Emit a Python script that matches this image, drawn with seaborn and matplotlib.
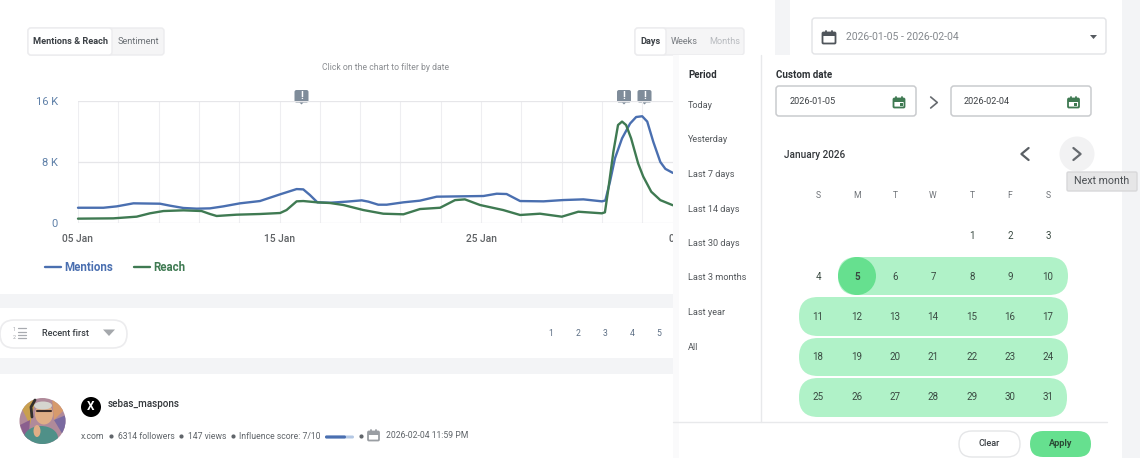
import numpy as np
import matplotlib
matplotlib.use("Agg")
import matplotlib.pyplot as plt
import matplotlib.patches as mpatches
import seaborn as sns

W, H = 1140, 458

# days after 05 Jan, values in thousands
mentions_day = [0, 1.26, 1.92, 2.75, 4.07, 4.57, 5.23, 5.89, 6.55, 7.21, 8.04, 9.03, 10.03, 10.85, 11.18, 11.51, 11.88,
                12.51, 13.33, 14.08, 14.41, 14.9, 15.32, 16.15, 16.97, 17.8, 20.12, 20.78, 21.27, 21.94, 23.1, 24.08, 25.08, 26,
                26.17, 26.4, 26.65, 27, 27.4, 27.7, 28, 28.25, 28.55, 28.9, 29.15, 29.5, 30]
mentions_k = [2.0, 2.0, 2.18, 2.58, 2.53, 2.27, 1.97, 1.88, 1.92, 2.18, 2.58, 2.88, 3.76, 4.45, 4.41, 3.67, 2.71,
              2.66, 2.8, 2.97, 2.8, 2.4, 2.4, 2.71, 2.93, 3.45, 3.54, 3.84, 3.8, 2.88, 2.84, 3.01, 3.1, 2.84,
              2.95, 5.4, 8.5, 11.1, 13.05, 13.9, 14.0, 13.3, 10.65, 8.0, 7.1, 6.6, 6.2]
reach_day = [0, 1.75, 2.91, 3.57, 4.24, 5.23, 6.13, 6.55, 6.88, 7.87, 9.03, 10.03, 10.35, 10.85, 11.18, 11.88,
             12.51, 13.17, 14.16, 15.15, 16.15, 16.97, 17.97, 18.71, 19.2, 19.95, 21.1, 21.94, 22.93, 24.01, 24.83, 26,
             26.15, 26.3, 26.57, 26.8, 27, 27.2, 27.45, 27.8, 28.05, 28.45, 28.9, 29.5, 30]
reach_k = [0.57, 0.61, 0.83, 1.27, 1.57, 1.66, 1.57, 1.18, 0.92, 1.09, 1.18, 1.31, 1.7, 2.84, 2.88, 2.71,
           2.62, 2.36, 1.7, 1.22, 1.14, 1.83, 2.0, 3.0, 3.1, 2.36, 1.7, 1.05, 1.22, 0.83, 1.48, 1.27,
           1.4, 4.1, 9.35, 12.85, 13.3, 12.85, 11.1, 7.8, 6.1, 4.1, 3.0, 2.35, 2.1]
x_ticks = [0, 10, 20, 29.45]
x_tick_labels = ["05 Jan", "15 Jan", "25 Jan", "0"]
y_ticks = [0, 8, 16]
y_tick_labels = ["0", "8 K", "16 K"]

period_items = ["Today", "Yesterday", "Last 7 days", "Last 14 days", "Last 30 days", "Last 3 months", "Last year", "All"]
week_days = ["S", "M", "T", "W", "T", "F", "S"]
pages = ["1", "2", "3", "4", "5"]

BLUE = "#4a6fb0"
GREEN = "#3f7a52"
PILL = "#b0f2c8"
STRONG = "#66e08f"
PAGE = "#f3f4f6"
TXT = "#333a40"
CAL_GREEN = "#3f7a52"

sns.set_theme(style="white")
plt.rcParams["font.family"] = ["Roboto", "DejaVu Sans"]
plt.rcParams["patch.edgecolor"] = "none"

fig = plt.figure(figsize=(W / 100, H / 100), dpi=100, facecolor="white")


def px_axes(z):
    a = fig.add_axes([0, 0, 1, 1], zorder=z)
    a.set_xlim(0, W)
    a.set_ylim(H, 0)
    a.axis("off")
    a.patch.set_alpha(0)
    return a


def box(a, x0, y0, x1, y1, r=0, fc="white", ec="none", lw=1.0, z=1):
    style = f"round,pad=0,rounding_size={r}" if r else "square,pad=0"
    a.add_patch(mpatches.FancyBboxPatch((x0, y0), x1 - x0, y1 - y0, boxstyle=style,
                                        fc=fc, ec=ec, lw=lw, zorder=z))


def label(a, x, y, s, size=6.5, color=TXT, ha="left", weight="normal", **kw):
    a.text(x, y + 0.5, s, fontsize=size, color=color, ha=ha, va="center", fontweight=weight, zorder=5, **kw)


def cal_icon(a, cx, cy, s, color, dot=False):
    box(a, cx - s, cy - s + 2, cx + s, cy + s, r=1, fc="white", ec=color, lw=1.3, z=4)
    box(a, cx - s, cy - s + 2, cx + s, cy - s + 5, fc=color, z=4)
    a.plot([cx - s * 0.5, cx - s * 0.5], [cy - s, cy - s + 2], color=color, lw=1.3, zorder=4)
    a.plot([cx + s * 0.5, cx + s * 0.5], [cy - s, cy - s + 2], color=color, lw=1.3, zorder=4)
    if dot:
        box(a, cx + 0.5, cy + 0.5, cx + 3.5, cy + 3.5, fc=color, z=4)


def chevron(a, cx, cy, d, size=5, color="#555b60", lw=1.6):
    a.plot([cx - d * size * 0.6, cx + d * size * 0.6, cx - d * size * 0.6],
           [cy - size, cy, cy + size], color=color, lw=lw, zorder=5)


# page behind the chart
bg = px_axes(0)
box(bg, 0, 0, W, H, fc=PAGE)
box(bg, 0, 0, 775, 294, fc="white")
box(bg, 0, 308, 775, 358, fc="white")
box(bg, 0, 374, 775, H, fc="white")
box(bg, 790, 0, 1122, H, fc="white")

# tabs
box(bg, 28, 28, 164, 55, r=3, fc="#f5f5f6", ec="#ececee")
box(bg, 28, 28, 112, 55, r=3, fc="white", ec="#ececee")
label(bg, 33, 41, "Mentions & Reach", size=6.6, weight="bold", color="#3a3f44")
label(bg, 118, 41, "Sentiment", size=6.6, color="#6b7075")
box(bg, 635, 28, 744, 55, r=3, fc="#f5f5f6", ec="#ececee")
box(bg, 635, 28, 666, 55, r=3, fc="white", ec="#ececee")
label(bg, 640, 41, "Days", size=6.6, weight="bold", color="#3a3f44")
label(bg, 671, 41, "Weeks", size=6.6, color="#777b80")
label(bg, 709, 41, "Months", size=6.6, color="#b8bbbf")
label(bg, 385.5, 67, "Click on the chart to filter by date", size=6.2, color="#8a8d91", ha="center")

# sort control and pagination
box(bg, 0, 320, 127, 348, r=14, fc="white", ec="#ececee", lw=1.2)
for yy in (328, 331.5, 335, 338):
    bg.plot([18, 26], [yy, yy], color="#a8abb0", lw=0.9, zorder=4)
label(bg, 13, 329, "1", size=3.8, color="#a0a3a8")
label(bg, 13, 337, "2", size=3.8, color="#a0a3a8")
label(bg, 42.5, 333.5, "Recent first", size=6.6, color="#3a3f44", weight="medium")
bg.add_patch(mpatches.Polygon([[103, 329.5], [115, 329.5], [109, 336]], fc="#a5a8ac", zorder=4))
for xp, s in zip([551, 578, 605, 632, 659], pages):
    label(bg, xp, 333.5, s, size=6.2, color="#5d6f85", ha="center")

# post row, avatar built from a few flat shapes
disc = mpatches.Ellipse((42.5, 421), 46, 46, fc="#b08a9a", zorder=3)
bg.add_patch(disc)
for points, colour in [([[20, 405], [36, 398], [30, 425]], "#c9a04f"),
                       ([[20, 425], [30, 420], [28, 445]], "#8a5f8e"),
                       ([[52, 398], [66, 408], [54, 420]], "#d69a6c"),
                       ([[54, 420], [66, 415], [66, 440]], "#7a6aa0")]:
    tri = mpatches.Polygon(points, fc=colour, zorder=3)
    bg.add_patch(tri)
    tri.set_clip_path(disc)
shirt = mpatches.Ellipse((41, 438), 34, 24, fc="#4f9088", zorder=4)
bg.add_patch(shirt)
shirt.set_clip_path(disc)
bg.add_patch(mpatches.Ellipse((44, 414), 18, 21, fc="#e0ae86", zorder=5))
bg.add_patch(mpatches.Ellipse((43, 405.5), 18, 8, fc="#d5d5cf", zorder=5))
bg.plot([32, 31, 35], [417, 407, 400], color="#33302e", lw=2, zorder=6)
bg.plot([37, 51], [411, 411], color="#3a2c2a", lw=1.5, zorder=6)
bg.add_patch(mpatches.Ellipse((37, 431), 7, 12, fc="#e0ae86", zorder=6))
bg.add_patch(mpatches.Ellipse((91, 407), 20, 20, fc="black", zorder=4))
label(bg, 91, 406.5, "X", size=8.5, color="white", ha="center", weight="bold")
label(bg, 108, 403.5, "sebas_maspons", size=7.1, color="#33373b", weight="medium")
info = [(81, "x.com"), (118, "6314 followers"), (188, "147 views"), (239, "Influence score: 7/10")]
for xp, s in info:
    label(bg, xp, 436, s, size=6.2, color="#5f6469")
for xp in (111, 181, 233, 361):
    bg.plot([xp], [436], "o", ms=2, color="#5f6469", zorder=5)
box(bg, 325, 435.5, 354, 438.5, r=1.5, fc="#b4c8e4", z=4)
box(bg, 325, 435.5, 346, 438.5, r=1.5, fc=BLUE, z=5)
cal_icon(bg, 373.5, 435, 5.5, "#9a9ea3")
label(bg, 386.5, 435, "2026-02-04 11:59 PM", size=6.2, color="#5f6469")

# date range box in the card on the right
box(bg, 812, 18, 1106, 54, r=3, fc="white", ec="#e2e3e6")
cal_icon(bg, 829, 37, 6.5, "#4f555b")
label(bg, 846, 36.5, "2026-01-05 - 2026-02-04", size=7.5, color="#85898e")
bg.add_patch(mpatches.Polygon([[1090, 35], [1097, 35], [1093.5, 39]], fc="#555a60", zorder=4))

# the chart itself
x_left, x_right = 78, 682.5
y_top, y_bottom = 101, 223
ax = fig.add_axes([x_left / W, 1 - y_bottom / H, (x_right - x_left) / W, (y_bottom - y_top) / H], zorder=1)
ax.patch.set_alpha(0)
sns.lineplot(x=mentions_day, y=mentions_k, color=BLUE, lw=1.7, label="Mentions", ax=ax, clip_on=False)
sns.lineplot(x=reach_day, y=reach_k, color=GREEN, lw=1.7, label="Reach", ax=ax, clip_on=False)
ax.set_xlim(0, 30)
ax.set_ylim(0, 16)
ax.set_xticks(range(0, 31, 2), minor=True)
ax.set_xticks(x_ticks)
ax.set_xticklabels(x_tick_labels, fontsize=7.4, color="#5f6265", fontweight="medium")
ax.set_yticks(y_ticks)
ax.set_yticklabels(y_tick_labels, fontsize=8, color="#5f80a8")
ax.tick_params(axis="both", which="both", length=0)
ax.tick_params(axis="x", pad=8)
ax.tick_params(axis="y", length=4, width=0.9, color="#e6e6e9", pad=10.5)
ax.grid(True, axis="x", which="both", color="#eeeef1", lw=0.8)
ax.grid(True, axis="y", color="#e6e6e9", lw=0.9)
ax.xaxis.get_gridlines()[3].set_visible(False)
ax.set_axisbelow(True)
sns.despine(ax=ax, left=True, bottom=True, top=True, right=True)
leg = ax.legend(loc="center left", bbox_to_anchor=(35 / W, 1 - 267.5 / H), bbox_transform=fig.transFigure,
                ncols=2, frameon=False, handlelength=1.35, handletextpad=0.28, columnspacing=1.85,
                labelcolor="linecolor", prop={"weight": "bold", "size": 8.3})

# alert flags above the chart
for xp in (301.5, 624, 644.5):
    box(bg, xp - 7, 90, xp + 7, 102.5, r=2, fc="#7f8c9a", z=6)
    bg.add_patch(mpatches.Polygon([[xp - 2, 102.5], [xp + 2, 102.5], [xp, 104.5]], fc="#7f8c9a", zorder=6))
    bg.text(xp, 96, "!", fontsize=7.5, color="white", ha="center", va="center", fontweight="bold", zorder=7)

# date picker popup, on top of the chart
top = px_axes(3)
box(top, 673, 55, 1107, H, fc="white")
box(top, 673, 55, 679, H, fc="#fafafb")
top.plot([760.5, 760.5], [55, 422], color="#e8e9eb", lw=1, zorder=3)
top.plot([673, 1107], [422, 422], color="#e8e9eb", lw=1, zorder=3)

label(top, 688, 74, "Period", size=7, weight="bold", color="#2d3135")
for yp, s in zip([104.5, 139, 174, 208.5, 243, 277.5, 312, 346.5], period_items):
    label(top, 688, yp, s, size=6.6, color="#54585c")

label(top, 776, 74, "Custom date", size=7, weight="bold", color="#2d3135")
box(top, 776, 86, 916, 116, r=3, fc="white", ec="#c9cbce", lw=1.1)
box(top, 951, 86, 1091, 116, r=3, fc="white", ec="#c9cbce", lw=1.1)
label(top, 789.5, 101.5, "2026-01-05", size=6.6, color="#3d4145")
label(top, 964, 101.5, "2026-02-04", size=6.6, color="#3d4145")
cal_icon(top, 899, 102, 5.5, CAL_GREEN, dot=True)
cal_icon(top, 1073.5, 102, 5.5, CAL_GREEN, dot=True)
chevron(top, 934, 102.5, 1, size=5.5, color="#666a6f", lw=1.2)

label(top, 784, 154, "January 2026", size=7.2, color="#33373b", weight="medium")
chevron(top, 1025, 154, -1, size=6, color="#5a5f64", lw=1.6)
top.add_patch(mpatches.Ellipse((1077, 154), 35, 35, fc="#f2f2f3", zorder=3))
chevron(top, 1077, 154, 1, size=6, color="#666a6f", lw=1.6)
box(top, 1067, 172, 1137, 191, r=1.5, fc="#e6e6e7", ec="#d8d8da", z=6)
top.text(1102, 181.5, "Next month", fontsize=7.7, color="#4a4e52", ha="center", va="center", zorder=7)

col_x = [818, 857, 895, 933, 972, 1010, 1048]
for xp, s in zip(col_x, week_days):
    label(top, xp, 195, s, size=6.2, color="#6f7378", ha="center")

box(top, 838, 257, 1068, 295, r=19, fc=PILL, z=2)
box(top, 799, 297, 1068, 336, r=19, fc=PILL, z=2)
box(top, 799, 338, 1068, 376, r=19, fc=PILL, z=2)
box(top, 799, 378, 1067, 417, r=19, fc=PILL, z=2)
top.add_patch(mpatches.Ellipse((857, 276), 38, 38, fc=STRONG, zorder=3))

day_num = 1
for row_y, start in zip([235.5, 276, 316.5, 357, 397], [4, 0, 0, 0, 0]):
    for c in range(start, 7):
        weight = "bold" if day_num == 5 else "normal"
        label(top, col_x[c], row_y, str(day_num), size=7, color="#3a4a42", ha="center", weight=weight)
        day_num += 1

box(top, 959, 431, 1020, 457, r=13, fc="white", ec="#e5e6e8", z=3)
label(top, 989.5, 443, "Clear", size=6.6, color="#3a3f44", ha="center", weight="medium")
box(top, 1030, 431, 1091, 457, r=13, fc=STRONG, z=3)
label(top, 1060.5, 443, "Apply", size=6.6, color="#2a4a35", ha="center", weight="bold")

fig.savefig("out.png", dpi=100)
